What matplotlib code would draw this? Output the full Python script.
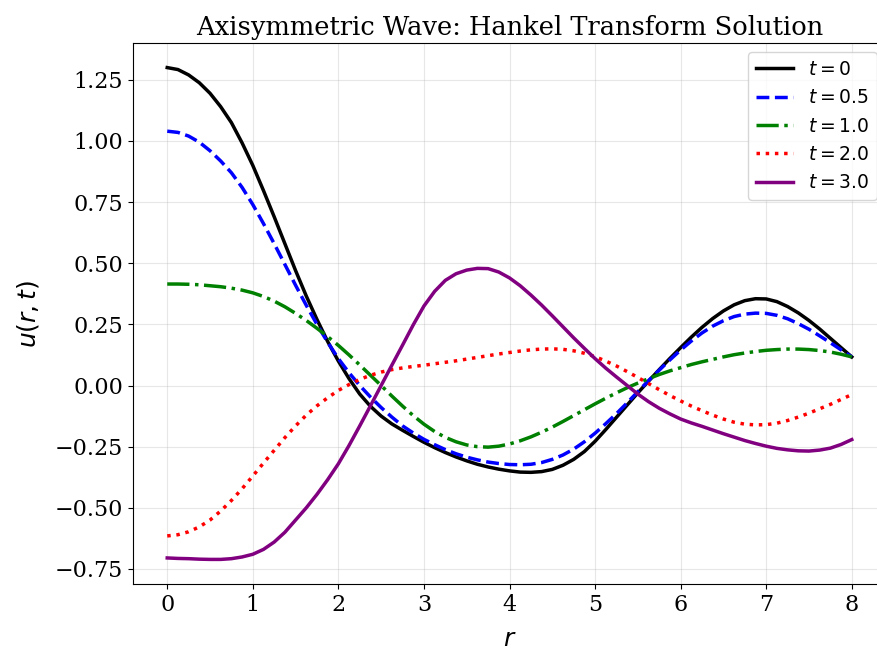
import numpy as np
import matplotlib
matplotlib.use('Agg')
import matplotlib.pyplot as plt

# radial positions and solution values (step 0.125)
r = np.linspace(0, 8, 65)

u_t0 = [1.30, 1.292, 1.27, 1.238, 1.195, 1.14, 1.075, 0.992, 0.90, 0.797,
        0.69, 0.58, 0.47, 0.366, 0.27, 0.18, 0.10, 0.028, -0.035, -0.085,
        -0.125, -0.157, -0.183, -0.208, -0.232, -0.254, -0.274, -0.292, -0.308,
        -0.322, -0.333, -0.342, -0.349, -0.354, -0.355, -0.352, -0.343, -0.326,
        -0.302, -0.27, -0.228, -0.18, -0.13, -0.08, -0.03, 0.018, 0.065, 0.111,
        0.155, 0.198, 0.238, 0.274, 0.305, 0.33, 0.347, 0.355, 0.354, 0.343,
        0.323, 0.297, 0.266, 0.231, 0.193, 0.155, 0.117]
u_t05 = [1.04, 1.035, 1.02, 0.995, 0.96, 0.918, 0.87, 0.81, 0.74, 0.662,
         0.58, 0.495, 0.41, 0.328, 0.25, 0.177, 0.11, 0.052, 0.0, -0.047,
         -0.09, -0.129, -0.165, -0.194, -0.22, -0.242, -0.262, -0.279, -0.293,
         -0.304, -0.313, -0.319, -0.323, -0.324, -0.322, -0.315, -0.302, -0.284,
         -0.26, -0.23, -0.195, -0.156, -0.115, -0.071, -0.025, 0.02, 0.063,
         0.105, 0.145, 0.182, 0.215, 0.243, 0.265, 0.282, 0.292, 0.296, 0.295,
         0.287, 0.273, 0.253, 0.23, 0.203, 0.175, 0.146, 0.117]
u_t1 = [0.415, 0.415, 0.414, 0.412, 0.408, 0.404, 0.398, 0.39, 0.379, 0.364,
        0.345, 0.322, 0.295, 0.266, 0.234, 0.2, 0.164, 0.125, 0.084, 0.042,
        0.0, -0.043, -0.084, -0.123, -0.158, -0.188, -0.212, -0.23, -0.243,
        -0.25, -0.252, -0.248, -0.239, -0.226, -0.21, -0.191, -0.17, -0.147,
        -0.123, -0.099, -0.075, -0.052, -0.03, -0.009, 0.01, 0.028, 0.045,
        0.06, 0.073, 0.086, 0.097, 0.107, 0.117, 0.126, 0.133, 0.139, 0.144,
        0.147, 0.149, 0.149, 0.147, 0.143, 0.137, 0.128, 0.117]
u_t2 = [-0.615, -0.61, -0.598, -0.578, -0.55, -0.513, -0.47, -0.422, -0.37,
        -0.317, -0.265, -0.213, -0.165, -0.121, -0.083, -0.05, -0.02, 0.004,
        0.025, 0.042, 0.055, 0.065, 0.072, 0.078, 0.083, 0.089, 0.095, 0.101,
        0.108, 0.115, 0.122, 0.129, 0.135, 0.141, 0.146, 0.149, 0.15, 0.148,
        0.142, 0.132, 0.118, 0.10, 0.08, 0.057, 0.033, 0.008, -0.017, -0.041,
        -0.063, -0.084, -0.103, -0.121, -0.137, -0.15, -0.158, -0.161, -0.16,
        -0.154, -0.143, -0.129, -0.113, -0.095, -0.077, -0.057, -0.037]
u_t3 = [-0.705, -0.707, -0.708, -0.71, -0.711, -0.711, -0.708, -0.701, -0.69,
        -0.67, -0.64, -0.60, -0.55, -0.50, -0.445, -0.385, -0.32, -0.245,
        -0.165, -0.083, 0.0, 0.083, 0.165, 0.248, 0.325, 0.385, 0.43, 0.457,
        0.472, 0.479, 0.478, 0.464, 0.44, 0.408, 0.37, 0.329, 0.285, 0.24,
        0.195, 0.152, 0.11, 0.071, 0.035, 0.0, -0.035, -0.066, -0.093, -0.116,
        -0.137, -0.153, -0.167, -0.182, -0.197, -0.211, -0.225, -0.237, -0.248,
        -0.257, -0.263, -0.267, -0.268, -0.264, -0.256, -0.241, -0.221]

labels = ['$t = 0$', '$t = 0.5$', '$t = 1.0$', '$t = 2.0$', '$t = 3.0$']

fig = plt.figure(figsize=(8.77, 6.55), dpi=100)
ax = fig.add_axes([133 / 877, 1 - 584 / 655, (886 - 133) / 877, (584 - 43) / 655])

ax.plot(r, u_t0, color='black', ls='-', lw=2.5, label=labels[0])
ax.plot(r, u_t05, color='blue', ls='--', lw=2.5, label=labels[1])
ax.plot(r, u_t1, color='green', ls='-.', lw=2.5, label=labels[2])
ax.plot(r, u_t2, color='red', ls=':', lw=2.5, label=labels[3])
ax.plot(r, u_t3, color='purple', ls='-', lw=2.5, label=labels[4])

ax.set_xlabel('$r$', fontsize=18, labelpad=8)
ax.set_ylabel('$u(r, t)$', fontsize=18, labelpad=10)
ax.set_title('Axisymmetric Wave: Hankel Transform Solution', family='DejaVu Serif', fontsize=18.5)
ax.set_yticks([-0.75, -0.5, -0.25, 0, 0.25, 0.5, 0.75, 1.0, 1.25])
for lab in ax.get_xticklabels() + ax.get_yticklabels():
    lab.set_family('DejaVu Serif')
    lab.set_fontsize(16)
ax.grid(True, alpha=0.3)
ax.legend(loc='upper right', fontsize=13.5)

plt.savefig('out.png', dpi=100)
